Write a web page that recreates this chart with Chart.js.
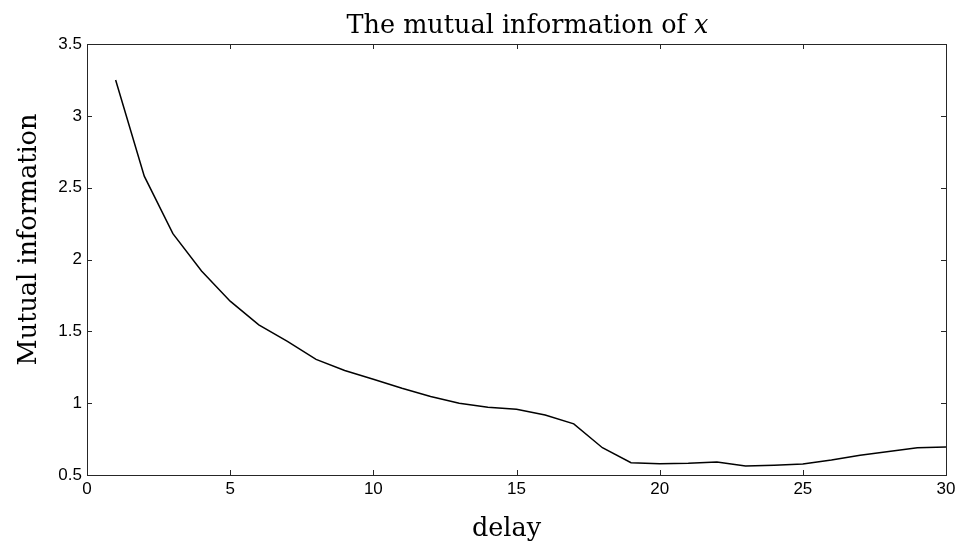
<!DOCTYPE html>
<html>
<head>
<meta charset="utf-8">
<script src="https://cdn.jsdelivr.net/npm/chart.js@4.4.1/dist/chart.umd.min.js"></script>
<style>
  html, body { margin: 0; padding: 0; background: #fff; }
  canvas { display: block; }
</style>
</head>
<body>
<canvas id="chart" width="960" height="548"></canvas>
<script>
'use strict';

// delay (lag) vs. average mutual information
const delays = [1, 2, 3, 4, 5, 6, 7, 8, 9, 10, 11, 12, 13, 14, 15,
                16, 17, 18, 19, 20, 21, 22, 23, 24, 25, 26, 27, 28, 29, 30];
const mutual_info = [3.25, 2.58, 2.18, 1.92, 1.71, 1.545, 1.43, 1.305, 1.227, 1.167,
                     1.104, 1.046, 1.0, 0.972, 0.958, 0.918, 0.856, 0.69, 0.586, 0.578,
                     0.582, 0.591, 0.563, 0.568, 0.577, 0.605, 0.638, 0.663, 0.69, 0.695];
const x_ticks = [0, 5, 10, 15, 20, 25, 30];
const y_ticks = [0.5, 1, 1.5, 2, 2.5, 3, 3.5];

const title_text = 'The mutual information of ';
const title_var = 'x';
const x_label = 'delay';
const y_label = 'Mutual information';

const axis_color = '#262626';
const serif = '"DejaVu Serif", "Liberation Serif", serif';
const sans = '"Liberation Sans", Arial, sans-serif';
const label_size = 25.5;

// box with inward ticks on all four sides, plus title and axis labels
const boxPlugin = {
    id: 'box',
    afterDraw: function(chart){
        const ctx = chart.ctx;
        const a = chart.chartArea;
        const xs = chart.scales.x, ys = chart.scales.y;
        const len = 5;
        ctx.save();
        ctx.strokeStyle = axis_color;
        ctx.lineWidth = 1;
        ctx.strokeRect(Math.round(a.left) + 0.5, Math.round(a.top) + 0.5,
                       Math.round(a.right - a.left), Math.round(a.bottom - a.top));
        ctx.beginPath();
        for( let v of x_ticks ){
            const px = Math.round(xs.getPixelForValue(v)) + 0.5;
            ctx.moveTo(px, a.bottom); ctx.lineTo(px, a.bottom - len);
            ctx.moveTo(px, a.top); ctx.lineTo(px, a.top + len);
        }
        for( let v of y_ticks ){
            const py = Math.round(ys.getPixelForValue(v)) + 0.5;
            ctx.moveTo(a.left, py); ctx.lineTo(a.left + len, py);
            ctx.moveTo(a.right, py); ctx.lineTo(a.right - len, py);
        }
        ctx.stroke();

        const cx = (a.left + a.right) / 2;
        const cy = (a.top + a.bottom) / 2;
        ctx.fillStyle = '#000';
        ctx.textBaseline = 'alphabetic';

        // title, with the variable in italics
        ctx.font = label_size + 'px ' + serif;
        const w1 = ctx.measureText(title_text).width;
        ctx.font = 'italic ' + label_size + 'px ' + serif;
        const w2 = ctx.measureText(title_var).width;
        const tx = cx + 11 - (w1 + w2) / 2;
        ctx.textAlign = 'left';
        ctx.font = label_size + 'px ' + serif;
        ctx.fillText(title_text, tx, 33);
        ctx.font = 'italic ' + label_size + 'px ' + serif;
        ctx.fillText(title_var, tx + w1, 33);

        // x axis label
        ctx.font = label_size + 'px ' + serif;
        ctx.textAlign = 'center';
        ctx.fillText(x_label, cx - 10, 536);

        // y axis label
        ctx.translate(36, cy - 20);
        ctx.rotate(-Math.PI / 2);
        ctx.fillText(y_label, 0, 0);
        ctx.restore();
    }
};

new Chart(document.getElementById('chart'), {
    type: 'line',
    data: {
        datasets: [{
            data: delays.map((d, i) => ({ x: d, y: mutual_info[i] })),
            borderColor: '#000',
            borderWidth: 1.5,
            pointRadius: 0,
            tension: 0,
            fill: false,
        }],
    },
    options: {
        responsive: false,
        animation: false,
        devicePixelRatio: 1,
        layout: { padding: { left: 0, right: 14, top: 44, bottom: 0 } },
        plugins: {
            legend: { display: false },
            tooltip: { enabled: false },
            title: { display: false },
        },
        scales: {
            x: {
                type: 'linear',
                min: 0, max: 30,
                afterFit: function(scale){ scale.height = 73; },
                afterBuildTicks: function(scale){ scale.ticks = x_ticks.map(v => ({ value: v })); },
                grid: { display: false, drawTicks: false },
                border: { display: false },
                ticks: { color: '#000', font: { family: sans, size: 17 }, padding: 4, maxRotation: 0,
                         callback: v => String(v) },
            },
            y: {
                type: 'linear',
                min: 0.5, max: 3.5,
                afterFit: function(scale){ scale.width = 87; },
                afterBuildTicks: function(scale){ scale.ticks = y_ticks.map(v => ({ value: v })); },
                grid: { display: false, drawTicks: false },
                border: { display: false },
                ticks: { color: '#000', font: { family: sans, size: 17 }, padding: 5,
                         callback: v => String(v) },
            },
        },
    },
    plugins: [boxPlugin],
});
</script>
</body>
</html>
